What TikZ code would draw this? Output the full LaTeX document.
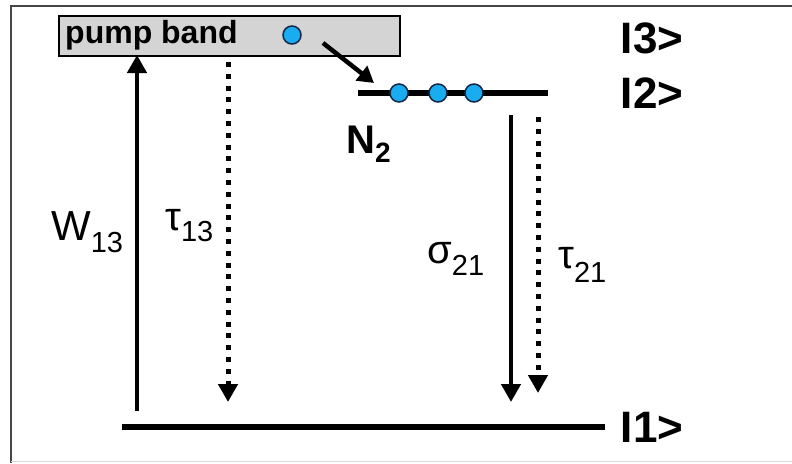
\documentclass[tikz,border=0pt]{standalone}
\usepackage{fontspec}
\setmainfont{Liberation Sans}
\usetikzlibrary{arrows.meta}
\definecolor{atomblue}{RGB}{25,172,240}
\definecolor{atomedge}{RGB}{20,40,70}
\definecolor{bandgray}{RGB}{212,212,212}
\definecolor{framegray}{RGB}{70,70,70}
\begin{document}
\begin{tikzpicture}[x=1pt,y=-1pt,
  levelline/.style={line width=6pt},
  trans/.style={line width=4.5pt,-{Triangle[length=18pt,width=19pt]}},
  dotarr/.style={line width=5pt,dash pattern=on 5pt off 6.8pt,-{Triangle[length=18pt,width=19pt]}},
  atom/.style={circle,draw=atomedge,line width=1.5pt,fill=atomblue,minimum size=18pt,inner sep=0pt},
  ket/.style={font=\bfseries\fontsize{44}{44}\selectfont,anchor=center,inner sep=0pt},
  lbl/.style={anchor=base west,inner sep=0pt}]
\useasboundingbox (0,0) rectangle (792,463);
% frame
\draw[framegray,line width=2pt] (11,463) -- (11,6) -- (792,6);
\draw[black!15,line width=1pt] (11,461) -- (792,461);
% pump band
\node[draw=black,line width=1.8pt,fill=bandgray,minimum width=341pt,minimum height=40pt,inner sep=0pt,anchor=north west] (band) at (58,15) {};
\node[lbl,font=\bfseries\fontsize{32}{32}\selectfont] (pb) at (65,43) {pump band};
\node[atom] (a3) at (292,35) {};
% levels
\coordinate (l2a) at (358,93);
\coordinate (l2b) at (548,93);
\draw[levelline] (l2a) -- (l2b);
\node[atom] (a21) at (399,93) {};
\node[atom] (a22) at (438,93) {};
\node[atom] (a23) at (474,93) {};
\coordinate (l1a) at (122,427);
\coordinate (l1b) at (605,427);
\draw[levelline] (l1a) -- (l1b);
% kets
\node[ket] (k3) at (652,38) {I3>};
\node[ket] (k2) at (652,93) {I2>};
\node[ket] (k1) at (652,427) {I1>};
% N2
\node[lbl] (n2) at (346,153) {\bfseries\fontsize{40}{40}\selectfont N\raisebox{-9pt}{\fontsize{28}{28}\selectfont 2}};
% transitions
\coordinate (pfrom) at (323,43);
\coordinate (pto) at (374,83);
\draw[line width=4.5pt,-{Triangle[length=16pt,width=18pt]}] (pfrom) -- (pto);
\coordinate (w0) at (137,411);
\coordinate (w1) at (137,55);
\draw[trans] (w0) -- (w1);
\coordinate (t0) at (228,62);
\coordinate (t1) at (228,402);
\draw[dotarr] (t0) -- (t1);
\coordinate (s0) at (511,115);
\coordinate (s1) at (511,402);
\draw[trans] (s0) -- (s1);
\coordinate (u0) at (538,117);
\coordinate (u1) at (538,393);
\draw[dotarr] (u0) -- (u1);
% labels
\node[lbl] (wl) at (51,240) {\fontsize{42}{42}\selectfont W\raisebox{-12pt}{\fontsize{29}{29}\selectfont 13}};
\node[lbl] (tl) at (165,230) {\fontsize{40}{40}\selectfont τ\raisebox{-11pt}{\fontsize{29}{29}\selectfont 13}};
\node[lbl] (sl) at (427,263) {\fontsize{40}{40}\selectfont σ\raisebox{-12pt}{\fontsize{29}{29}\selectfont 21}};
\node[lbl] (ul) at (558,268) {\fontsize{40}{40}\selectfont τ\raisebox{-14pt}{\fontsize{29}{29}\selectfont 21}};
\end{tikzpicture}
\end{document}
